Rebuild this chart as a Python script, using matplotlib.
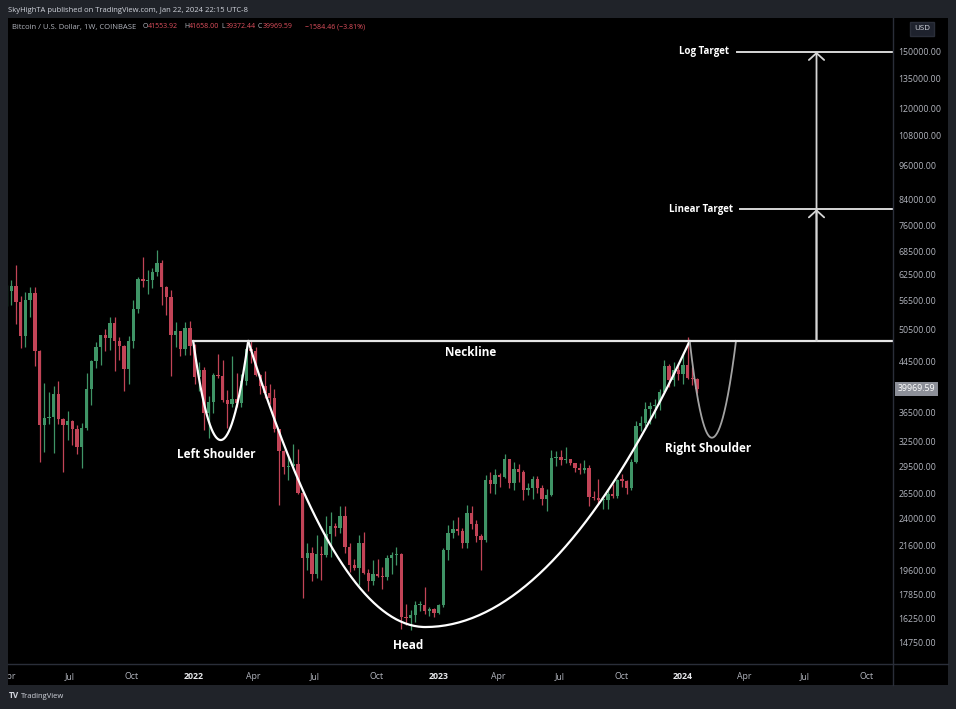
import numpy as np
import pandas as pd
import matplotlib
matplotlib.use("Agg")
import matplotlib.pyplot as plt
import matplotlib.dates as mdates
import matplotlib.transforms as mtransforms
from matplotlib.lines import Line2D
from matplotlib.patches import Rectangle
from matplotlib.ticker import NullLocator

plt.rcParams['font.family'] = ['Open Sans', 'DejaVu Sans']

# ---- weekly BTC/USD candles (Coinbase, thousands of USD), week of 2021-03-29 .. 2024-01-22
first_week = "2021-03-29"
first_open = 55.8

closes = [
    # 2021
    58.7, 59.8, 56.2, 49.1, 56.6, 58.2, 46.4, 34.7, 35.7, 35.8, 39.1, 35.5, 34.7, 35.3,
    34.2, 31.8, 34.3, 39.9, 44.6, 47.1, 49.3, 48.8, 51.8, 48.3, 47.3, 43.2, 48.2, 54.7,
    61.5, 61.0, 61.3, 63.3, 65.5, 59.7, 57.3, 49.4, 50.1, 46.7, 50.8, 47.3,
    # 2022
    41.8, 43.1, 36.3, 37.9, 42.2, 42.0, 38.3, 37.7, 38.4, 37.8, 41.3, 46.8, 46.4, 42.2,
    40.4, 39.4, 38.5, 34.1, 31.3, 29.4, 29.5, 29.8, 26.6, 20.6, 21.0, 19.3, 20.9, 20.8,
    22.6, 23.3, 23.2, 24.3, 21.5, 20.0, 19.8, 21.8, 19.4, 18.8, 19.3, 19.2, 19.1, 20.6,
    20.8, 20.9, 16.3, 16.25, 16.45, 17.1, 17.15, 16.75, 16.84, 16.6,
    # 2023
    17.1, 21.2, 22.7, 23.1, 22.9, 21.8, 24.6, 23.5, 22.4, 22.1, 28.0, 27.5, 28.5, 28.3,
    30.3, 27.6, 29.2, 28.8, 26.9, 27.1, 28.1, 27.1, 25.9, 26.4, 30.5, 30.6, 30.2, 30.3,
    29.9, 29.3, 29.1, 29.3, 26.1, 26.0, 25.8, 25.85, 26.5, 26.3, 28.0, 27.9, 27.1, 30.0,
    34.5, 35.0, 37.0, 37.4, 37.45, 39.5, 43.8, 41.4, 43.0, 42.3,
    # 2024
    43.9, 41.7, 41.55392, 39.96959,
]
highs = [
    60.1, 61.2, 64.9, 57.5, 58.5, 59.5, 59.6, 46.6, 40.9, 39.5, 40.5, 41.3, 35.7, 36.6,
    35.4, 34.7, 35.0, 42.6, 44.8, 48.1, 49.4, 50.5, 52.9, 52.9, 48.9, 47.4, 49.2, 56.6,
    62.0, 67.0, 63.7, 64.3, 69.0, 66.3, 59.9, 59.0, 51.9, 50.2, 51.9, 52.1,
    47.6, 44.5, 43.5, 38.9, 42.6, 45.8, 44.7, 39.8, 45.4, 42.6, 42.3, 47.0, 48.2, 47.2,
    42.4, 42.9, 40.8, 40.0, 34.2, 31.4, 30.6, 32.2, 31.6, 26.8, 21.8, 21.5, 22.5, 21.6,
    24.3, 24.7, 23.6, 25.2, 25.2, 21.8, 20.5, 22.5, 22.8, 19.7, 20.4, 20.5, 19.9, 20.8,
    21.1, 21.5, 21.0, 17.2, 16.8, 17.4, 17.4, 18.4, 17.0, 16.9,
    17.2, 21.4, 23.4, 23.9, 24.2, 23.2, 25.3, 25.2, 23.9, 22.6, 28.5, 28.8, 29.2, 28.7,
    31.0, 30.4, 30.0, 29.8, 29.1, 27.6, 28.4, 28.4, 27.4, 27.0, 31.4, 31.3, 31.4, 31.8,
    30.4, 29.9, 29.9, 30.2, 29.7, 26.8, 28.1, 26.0, 27.0, 27.5, 28.1, 28.6, 28.0, 30.4,
    35.2, 35.9, 38.0, 37.9, 38.4, 40.0, 44.7, 44.0, 44.4, 44.0,
    45.9, 49.0, 43.6, 41.658,
]
lows = [
    55.4, 55.5, 51.5, 47.0, 47.1, 53.0, 43.8, 30.0, 31.2, 34.8, 31.1, 34.8, 28.8, 32.7,
    32.1, 31.0, 29.3, 34.0, 37.5, 43.3, 43.9, 46.4, 46.6, 42.8, 44.7, 39.6, 40.7, 46.9,
    53.9, 59.6, 58.0, 59.4, 62.3, 55.6, 53.5, 42.0, 47.1, 45.5, 45.6, 45.7,
    40.7, 39.6, 34.0, 32.9, 36.3, 41.7, 38.0, 34.3, 37.2, 37.2, 37.2, 40.6, 44.2, 42.1,
    39.2, 38.6, 37.7, 33.7, 25.3, 28.6, 28.0, 29.3, 26.5, 17.6, 19.6, 18.8, 19.0, 18.9,
    20.7, 20.7, 22.4, 22.7, 21.0, 19.5, 19.6, 18.5, 19.3, 18.1, 18.5, 19.1, 18.2, 18.9,
    19.3, 20.0, 15.6, 15.8, 15.5, 16.0, 16.7, 16.5, 16.4, 16.3,
    16.5, 17.0, 20.4, 22.3, 22.5, 21.4, 21.4, 23.1, 21.9, 19.6, 21.9, 26.6, 26.5, 27.2,
    28.2, 27.1, 26.9, 27.7, 25.8, 26.4, 25.9, 26.6, 25.3, 24.8, 26.3, 29.5, 29.7, 29.9,
    29.6, 28.9, 28.6, 28.7, 25.2, 25.8, 25.4, 24.9, 24.9, 26.0, 26.0, 27.2, 26.5, 26.9,
    29.9, 33.9, 34.5, 34.8, 35.6, 36.8, 39.4, 40.2, 40.5, 41.4,
    40.8, 41.5, 40.6, 39.37244,
]

# ---- pattern drawn on the chart (USD)
neck_price = 48250
neck_start = "2022-01-01"
ls_dates = ["2022-01-01", "2022-02-11", "2022-03-24"]
ls_low = 32700
head_dates = ["2022-03-24", "2022-12-13", "2024-01-11"]
head_low = 15700
rs_dates = ["2024-01-11", "2024-02-13", "2024-03-20"]
rs_low = 33000
log_target = 150000
linear_target = 80900
log_target_start = "2024-03-22"
linear_target_start = "2024-03-26"
arrow_date = "2024-07-18"
neckline_label_date = "2023-02-18"

price_ticks = [150000, 135000, 120000, 108000, 96000, 84000, 76000, 68500, 62500, 56500,
               50500, 44500, 36500, 32500, 29500, 26500, 24000, 21600, 19600, 17850,
               16250, 14750]
time_ticks = ["2021-04-01", "2021-07-01", "2021-10-01", "2022-01-01", "2022-04-01",
              "2022-07-01", "2022-10-01", "2023-01-01", "2023-04-01", "2023-07-01",
              "2023-10-01", "2024-01-01", "2024-04-01", "2024-07-01", "2024-10-01"]
time_labels = ["Apr", "Jul", "Oct", "2022", "Apr", "Jul", "Oct", "2023", "Apr", "Jul",
               "Oct", "2024", "Apr", "Jul", "Oct"]
last_price = 39969.59

UP = "#3f9466"
DOWN = "#c24457"
AXIS_TXT = "#b2b5be"
SEP = "#2a2e39"

W, H = 956, 709
fig = plt.figure(figsize=(W / 100, H / 100), dpi=100, facecolor="#202329")


def px(x0, y0, x1, y1):
    # pixel box (top-left origin) -> figure fraction rect
    return [x0 / W, 1 - y1 / H, (x1 - x0) / W, (y1 - y0) / H]


panel_rect = px(8, 18, 948, 685)
panel = Rectangle((panel_rect[0], panel_rect[1]), panel_rect[2], panel_rect[3],
                  transform=fig.transFigure, facecolor="black", edgecolor="none", zorder=-5)
fig.patches.append(panel)

ax = fig.add_axes(px(8, 18, 893, 664))
ax.set_facecolor("black")
for s in ax.spines.values():
    s.set_visible(False)

# ---- candles
dates = pd.date_range(first_week, periods=len(closes), freq="7D")
x = mdates.date2num(dates)
c = np.array(closes) * 1000
o = np.array([first_open] + closes[:-1]) * 1000
h = np.array(highs) * 1000
l = np.array(lows) * 1000
col = np.where(c >= o, UP, DOWN)
ax.vlines(x, l, h, colors=col, linewidth=0.9, zorder=2)
ax.bar(x, np.maximum(np.abs(c - o), c * 0.004), bottom=np.minimum(o, c), width=5.0,
       color=col, linewidth=0, zorder=3)

ax.set_yscale("log")
ax.set_ylim(13580, 171300)
ax.set_xlim(mdates.date2num(pd.Timestamp("2021-03-31")),
            mdates.date2num(pd.Timestamp("2024-11-09")))
x_right = ax.get_xlim()[1]


# ---- pattern curves: half parabolas in log-price space
def cup(d, low, top, n=80):
    x0, x1, x2 = mdates.date2num(pd.to_datetime(d))
    xl = np.linspace(x0, x1, n)
    xr = np.linspace(x1, x2, n)
    t = np.concatenate([(xl - x1) / (x1 - x0), (xr - x1) / (x2 - x1)])
    ly = np.log(low) + (np.log(top) - np.log(low)) * t ** 2
    return np.concatenate([xl, xr]), np.exp(ly)


xs, ys = cup(ls_dates, ls_low, neck_price)
ax.plot(xs, ys, color="white", lw=1.6, zorder=5, solid_capstyle="round")
xs, ys = cup(head_dates, head_low, neck_price)
ax.plot(xs, ys, color="white", lw=1.6, zorder=5, solid_capstyle="round")
xs, ys = cup(rs_dates, rs_low, neck_price)
ax.plot(xs, ys, color="#a3a3a3", lw=1.3, zorder=5)

ax.plot([mdates.date2num(pd.Timestamp(neck_start)), x_right], [neck_price, neck_price],
        color="#e6e6e6", lw=1.6, zorder=5)
ax.plot([mdates.date2num(pd.Timestamp(log_target_start)), x_right], [log_target, log_target],
        color="#d6d6d6", lw=1.4, zorder=5)
ax.plot([mdates.date2num(pd.Timestamp(linear_target_start)), x_right],
        [linear_target, linear_target], color="#d6d6d6", lw=1.4, zorder=5)

xa = mdates.date2num(pd.Timestamp(arrow_date))
for tgt in (log_target, linear_target):
    ax.annotate("", xy=(xa, tgt), xytext=(xa, neck_price),
                arrowprops=dict(arrowstyle="->,head_length=0.5,head_width=0.55",
                                color="#d6d6d6", lw=1.3, shrinkA=0, shrinkB=0),
                zorder=5)

lbl = dict(color="white", fontsize=8.5, fontweight="bold", textcoords="offset points",
           va="center", zorder=6)
ax.annotate("Neckline", xy=(mdates.date2num(pd.Timestamp(neckline_label_date)), neck_price),
            xytext=(0, -8.6), ha="center", **lbl)
ax.annotate("Left Shoulder", xy=(mdates.date2num(pd.Timestamp(ls_dates[1])), ls_low),
            xytext=(-2.9, -10.3), ha="center", **lbl)
ax.annotate("Head", xy=(mdates.date2num(pd.Timestamp(head_dates[1])), head_low),
            xytext=(-12.2, -13), ha="center", **lbl)
ax.annotate("Right Shoulder", xy=(mdates.date2num(pd.Timestamp(rs_dates[1])), rs_low),
            xytext=(-2.9, -8), ha="center", **lbl)
lbl["fontsize"] = 7
ax.annotate("Log Target", xy=(mdates.date2num(pd.Timestamp(log_target_start)), log_target),
            xytext=(-5.8, 0), ha="right", **lbl)
ax.annotate("Linear Target",
            xy=(mdates.date2num(pd.Timestamp(linear_target_start)), linear_target),
            xytext=(-5, 0), ha="right", **lbl)

# ---- price scale (right)
ax.yaxis.set_minor_locator(NullLocator())
ax.set_yticks(price_ticks)
ax.set_yticklabels([f"{v:.2f}" for v in price_ticks])
ax.yaxis.tick_right()
ax.tick_params(axis="y", length=0, pad=4, labelsize=6.3, labelcolor=AXIS_TXT)

trans = mtransforms.blended_transform_factory(ax.transAxes, ax.transData)
ax.text(1.005, last_price, f"{last_price:.2f}", transform=trans, fontsize=6.3, color="white",
        va="center", ha="left", clip_on=False,
        bbox=dict(boxstyle="square,pad=0.3", facecolor="#8c8f98", edgecolor="none"))

# ---- time scale
ax.set_xticks(mdates.date2num(pd.to_datetime(time_ticks)))
ax.set_xticklabels(time_labels)
ax.tick_params(axis="x", length=0, pad=6, labelsize=6.3, labelcolor=AXIS_TXT)
for t in ax.get_xticklabels():
    if t.get_text().isdigit():
        t.set_color("#e8e9ec")
        t.set_fontweight("bold")
    t.set_clip_box(mtransforms.TransformedBbox(
        mtransforms.Bbox.from_bounds(*panel_rect), fig.transFigure))
    t.set_clip_on(True)

# ---- separators
fig.add_artist(Line2D([893 / W, 893 / W], [1 - 18 / H, 1 - 685 / H], color=SEP, lw=1.0))
fig.add_artist(Line2D([8 / W, 948 / W], [1 - 664 / H, 1 - 664 / H], color=SEP, lw=1.0))

# ---- header / legend
fig.text(8 / W, 1 - 10 / H, "SkyHighTA published on TradingView.com, Jan 22, 2024 22:15 UTC-8",
         color="#d1d4dc", fontsize=5.5, va="center")
fig.text(12 / W, 1 - 27 / H, "Bitcoin / U.S. Dollar, 1W, COINBASE", color=AXIS_TXT,
         fontsize=5.5, va="center")
legend_items = [("O", "41553.92", 143), ("H", "41658.00", 184), ("L", "39372.44", 221),
                ("C", "39969.59", 258)]
for k, v, xp in legend_items:
    fig.text(xp / W, 1 - 27 / H, k, color=AXIS_TXT, fontsize=5.0, va="center")
    fig.text((xp + 4.5) / W, 1 - 27 / H, v, color="#e0505e", fontsize=5.0, va="center")
fig.text(305 / W, 1 - 27 / H, "\u22121584.46 (\u22123.81%)", color="#e0505e", fontsize=5.0,
         va="center")

fig.text(922 / W, 1 - 29 / H, "USD", color="#d1d4dc", fontsize=5.8, va="center", ha="center",
         bbox=dict(boxstyle="square,pad=0.45", facecolor="#1e222d", edgecolor="#2a2e39"))

fig.text(9 / W, 1 - 696 / H, "TV", color="#d1d4dc", fontsize=6, fontweight="bold", va="center")
fig.text(21 / W, 1 - 696 / H, "TradingView", color="#d1d4dc", fontsize=5.5, va="center")

fig.savefig("out.png", dpi=100, facecolor=fig.get_facecolor())
